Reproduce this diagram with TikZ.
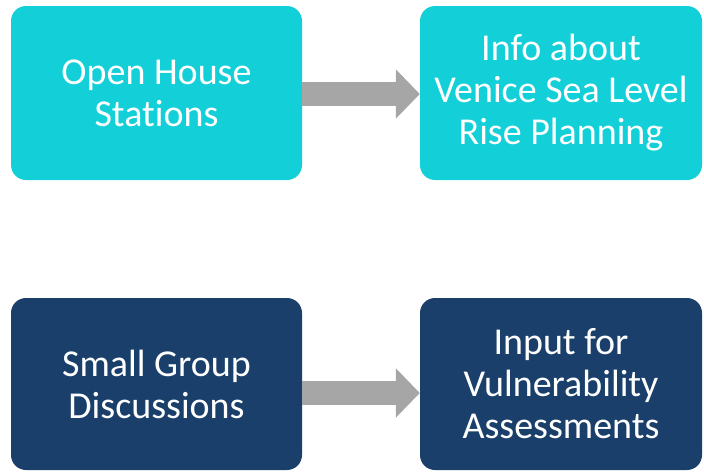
\documentclass[tikz,border=0pt]{standalone}
\usepackage{fontspec}
\setmainfont{Carlito}[Ligatures=NoCommon]
\usetikzlibrary{arrows.meta}
\definecolor{tealbox}{HTML}{13CFD8}
\definecolor{navybox}{HTML}{1A3F6A}
\definecolor{arrowgray}{HTML}{A6A6A6}
\tikzstyle{box}=[rounded corners=15pt, inner sep=0pt, align=center, text=white,
    font=\fontsize{38}{42}\selectfont]
\tikzstyle{flow}=[draw=arrowgray, line width=24pt, -{Triangle[length=24pt,width=48pt]}]
\newcommand{\boxnode}{\node[box]}

\begin{document}
\begin{tikzpicture}[x=1pt, y=-1pt]
\useasboundingbox (0,0) rectangle (704,472);
\boxnode[fill=tealbox, minimum width=291pt, minimum height=174pt] (ohs) at (156.5,93) {Open House\\Stations};
\boxnode[fill=tealbox, minimum width=282pt, minimum height=174pt] (info) at (561,93) {Info about\\Venice Sea Level\\Rise Planning};
\boxnode[fill=navybox, minimum width=291pt, minimum height=172pt] (sgd) at (156.5,384) {Small Group\\Discussions};
\boxnode[fill=navybox, minimum width=282pt, minimum height=172pt] (input) at (561,384) {Input for\\Vulnerability\\Assessments};
\draw[flow] ([yshift=-1pt]ohs.east) -- ([yshift=-1pt]info.west);
\draw[flow] ([yshift=-9pt]sgd.east) -- ([yshift=-9pt]input.west);
\end{tikzpicture}
\end{document}
